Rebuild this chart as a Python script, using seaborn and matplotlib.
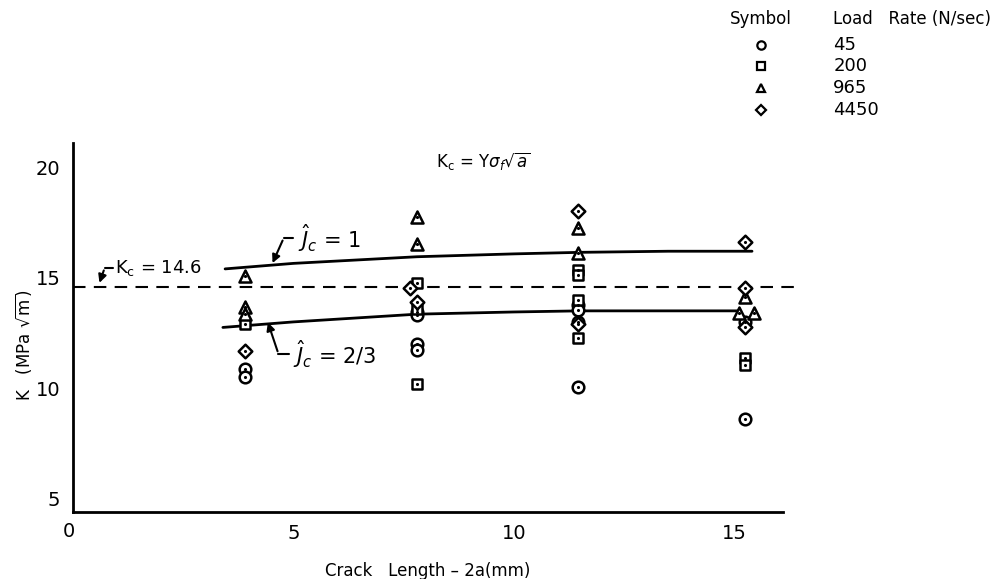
import matplotlib
matplotlib.use("Agg")
import matplotlib.pyplot as plt
import seaborn as sns
import pandas as pd

# Measured fracture toughness K (MPa sqrt(m)) versus crack length 2a (mm)
rates = ["45", "200", "965", "4450"]

x_45 = [3.9, 3.9, 7.8, 7.8, 7.8, 7.8, 11.45, 11.45, 11.45, 11.45, 15.25, 15.25]
k_45 = [10.85, 10.5, 13.45, 13.3, 11.98, 11.75, 13.75, 13.52, 13.0, 10.03, 13.0, 8.6]

x_200 = [3.9, 7.8, 7.8, 7.8, 11.45, 11.45, 11.45, 11.45, 15.25, 15.25]
k_200 = [12.9, 14.75, 13.6, 10.2, 15.36, 15.13, 13.98, 12.26, 11.35, 11.05]

x_965 = [3.9, 3.9, 3.9, 7.8, 7.8, 11.45, 11.45, 15.25, 15.1, 15.45]
k_965 = [15.07, 13.69, 13.36, 17.74, 16.51, 17.25, 16.13, 14.15, 13.4, 13.4]

x_4450 = [3.9, 7.65, 7.8, 11.45, 11.45, 15.25, 15.25, 15.25]
k_4450 = [11.66, 14.55, 13.9, 18.02, 12.9, 16.6, 14.52, 12.77]

# Trend curves for normalized J_c = 1 and J_c = 2/3
curve1_x = [3.45, 5.0, 7.8, 10.0, 11.5, 13.5, 15.4]
curve1_k = [15.4, 15.65, 15.95, 16.08, 16.15, 16.2, 16.2]
curve2_x = [3.4, 5.0, 7.8, 10.0, 11.5, 13.5, 15.1]
curve2_k = [12.75, 13.0, 13.35, 13.45, 13.5, 13.5, 13.5]

kc_value = 14.6

x_ticks = [0, 5, 10, 15]
y_ticks = [5, 10, 15, 20]

frames = []
for r, xs, ks in [("45", x_45, k_45), ("200", x_200, k_200),
                  ("965", x_965, k_965), ("4450", x_4450, k_4450)]:
    frames.append(pd.DataFrame({"crack": xs, "K": ks, "rate": r}))
df = pd.concat(frames, ignore_index=True)

sns.set_theme(style="white")
plt.rcParams["font.family"] = ["DejaVu Sans"]
plt.rcParams["text.color"] = "black"
plt.rcParams["axes.labelcolor"] = "black"
plt.rcParams["xtick.color"] = "black"
plt.rcParams["ytick.color"] = "black"

fig = plt.figure(figsize=(10.05, 5.79), dpi=100)
ax = fig.add_axes([0.0726, 0.116, 0.7064, 0.637])

markers = {"45": "o", "200": "s", "965": "^", "4450": "D"}
sizes = {"45": 70, "200": 55, "965": 75, "4450": 48}
for r in rates:
    sub = df[df["rate"] == r]
    sns.scatterplot(data=sub, x="crack", y="K", marker=markers[r], s=sizes[r],
                    facecolor="white", edgecolor="black", linewidth=1.8,
                    ax=ax, zorder=4, legend=False)
# centre dot inside every symbol
sns.scatterplot(data=df, x="crack", y="K", marker="o", s=5, color="black",
                linewidth=0, ax=ax, zorder=5, legend=False)

sns.lineplot(x=curve1_x, y=curve1_k, color="black", lw=2.0, ax=ax, zorder=3,
             sort=False)
sns.lineplot(x=curve2_x, y=curve2_k, color="black", lw=2.0, ax=ax, zorder=3,
             sort=False)
ax.plot([0, 16.45], [kc_value, kc_value], color="black", lw=1.5,
        dashes=(6, 4), clip_on=False, zorder=2)

ax.set_xlim(0, 16.1)
ax.set_ylim(4.4, 21.1)
ax.set_xticks(x_ticks[1:])
ax.set_xticklabels([str(t) for t in x_ticks[1:]], fontsize=14)
ax.set_yticks(y_ticks)
ax.set_yticklabels([str(t) for t in y_ticks], fontsize=14)
ax.tick_params(direction="in", length=6, width=1.3, colors="black", pad=9)
for side in ["top", "right"]:
    ax.spines[side].set_visible(False)
for side in ["left", "bottom"]:
    ax.spines[side].set_color("black")
    ax.spines[side].set_linewidth(2.0)
ax.text(-0.1, 3.5, "0", fontsize=14, ha="center", va="center")

ax.set_xlabel("Crack   Length – 2a(mm)", fontsize=12)
ax.xaxis.set_label_coords(0.5, -0.135)
ax.set_ylabel(r"K   (MPa $\sqrt{\mathrm{m}}$)", fontsize=12)
ax.yaxis.set_label_coords(-0.055, 0.45)

# annotations
ax.annotate("", xy=(0.58, kc_value + 0.05), xytext=(0.72, 15.45),
            arrowprops=dict(arrowstyle="-|>", color="black", lw=1.5,
                            mutation_scale=12))
ax.plot([0.72, 0.9], [15.45, 15.45], color="black", lw=1.5)
ax.text(0.95, 15.45, r"K$_\mathrm{c}$ = 14.6", fontsize=13, va="center")

ax.annotate("", xy=(4.5, 15.55), xytext=(4.78, 16.8),
            arrowprops=dict(arrowstyle="-|>", color="black", lw=1.5,
                            mutation_scale=12))
ax.plot([4.78, 5.0], [16.8, 16.8], color="black", lw=1.5)
ax.text(5.1, 16.8, r"$\hat{J}_c$ = 1", fontsize=15, va="center")

ax.annotate("", xy=(4.4, 13.1), xytext=(4.66, 11.55),
            arrowprops=dict(arrowstyle="-|>", color="black", lw=1.5,
                            mutation_scale=12))
ax.plot([4.66, 4.9], [11.55, 11.55], color="black", lw=1.5)
ax.text(5.0, 11.55, r"$\hat{J}_c$ = 2/3", fontsize=15, va="center")

ax.text(9.3, 20.3, r"K$_\mathrm{c}$ = Y$\sigma_f\sqrt{a}$", fontsize=12,
        ha="center", va="center")

# symbol key
fig.text(0.757, 0.968, "Symbol", fontsize=12, ha="center", va="center")
fig.text(0.829, 0.968, "Load   Rate (N/sec)", fontsize=12, ha="left",
         va="center")
key_y = [0.922, 0.886, 0.848, 0.810]
for r, yk in zip(rates, key_y):
    fig.lines.append(plt.Line2D([0.757], [yk], transform=fig.transFigure,
                                marker=markers[r], markersize=6 if r != "4450" else 5,
                                markerfacecolor="white", markeredgecolor="black",
                                markeredgewidth=1.6, linestyle="none"))
    fig.text(0.829, yk, r, fontsize=13, ha="left", va="center")

fig.savefig("out.png", dpi=100, facecolor="white")
